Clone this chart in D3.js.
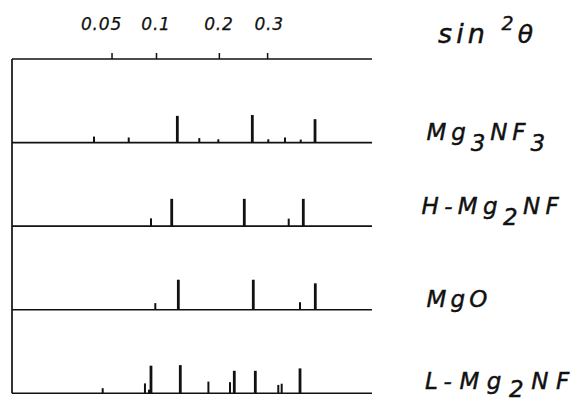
<!DOCTYPE html>
<html>
<head>
<meta charset="utf-8">
<script src="https://cdn.jsdelivr.net/npm/d3@7"></script>
<style>
  body { margin: 0; background: #fff; }
  svg { display: block; }
  text { font-family: "DejaVu Sans", sans-serif; font-style: italic; fill: #111; stroke: #111; stroke-width: 0.45; }
</style>
</head>
<body>
<script>
// ---- data ----
const tickValues = [0.05, 0.1, 0.2, 0.3];
const tickLabels = ["0.05", "0.1", "0.2", "0.3"];
const phases = ["Mg3NF3", "H-Mg2NF", "MgO", "L-Mg2NF"];

// line positions (sin²θ) and relative intensities (0-100)
const mg3nf3Pos = [0.0350, 0.0673, 0.1301, 0.1652, 0.1990, 0.2672, 0.3027, 0.3422, 0.3816, 0.4193];
const mg3nf3Int = [20, 17, 89, 15, 11, 92, 11, 17, 10, 78];

const hMg2nfPos = [0.0935, 0.1218, 0.2502, 0.3513, 0.3883];
const hMg2nfInt = [26, 91, 91, 25, 91];

const mgoPos = [0.0991, 0.1316, 0.2693, 0.3798, 0.4201];
const mgoInt = [22, 100, 100, 25, 88];

const lMg2nfPos = [0.0421, 0.0860, 0.0910, 0.0935, 0.1346, 0.1810, 0.2213, 0.2298, 0.2737, 0.3261, 0.3342, 0.3798];
const lMg2nfInt = [17, 33, 12, 92, 94, 39, 37, 75, 75, 28, 32, 83];

const seriesPos = [mg3nf3Pos, hMg2nfPos, mgoPos, lMg2nfPos];
const seriesInt = [mg3nf3Int, hMg2nfInt, mgoInt, lMg2nfInt];

// ---- layout ----
const W = 576, H = 401;
const svg = d3.select("body").append("svg").attr("width", W).attr("height", H);

const x = d3.scaleSqrt().domain([0, 0.6]).range([4.2, 4.2 + 480 * Math.sqrt(0.6)]);
const xL = 12, xR = 372;
const row = d3.scalePoint().domain(["axis", ...phases]).range([59, 393.3]);
const h = d3.scaleLinear().domain([0, 100]).range([0, 30]);

const ink = "#111";

// left vertical line
svg.append("line").attr("x1", xL).attr("x2", xL)
  .attr("y1", row("axis")).attr("y2", row(phases[3]))
  .attr("stroke", ink).attr("stroke-width", 1.7);

// top axis with upward ticks
const axisG = svg.append("g").attr("transform", `translate(0,${row("axis")})`);
const axis = d3.axisTop(x).tickValues(tickValues).tickSize(6).tickSizeOuter(0).tickFormat(() => "");
axisG.call(axis);
axisG.select(".domain").remove();
axisG.selectAll(".tick line").attr("stroke", ink).attr("stroke-width", 1.5);
axisG.append("line").attr("x1", xL).attr("x2", xR).attr("stroke", ink).attr("stroke-width", 1.6);

// tick labels
const labelShift = [-10, 0, 0, 2];
svg.append("g").selectAll("text").data(tickValues).join("text")
  .attr("x", (d, i) => x(d) + labelShift[i])
  .attr("y", 30)
  .attr("text-anchor", "middle")
  .attr("font-size", 17)
  .attr("letter-spacing", 0.8)
  .style("stroke-width", 0.25)
  .text((d, i) => tickLabels[i]);

// baselines and peaks
phases.forEach((p, k) => {
  const y0 = row(p);
  svg.append("line").attr("x1", xL).attr("x2", xR).attr("y1", y0).attr("y2", y0)
    .attr("stroke", ink).attr("stroke-width", 1.6);
  const data = seriesPos[k].map((v, i) => ({ v, I: seriesInt[k][i] }));
  svg.append("g").selectAll("line").data(data).join("line")
    .attr("x1", d => x(d.v)).attr("x2", d => x(d.v))
    .attr("y1", y0).attr("y2", d => y0 - h(d.I))
    .attr("stroke", ink)
    .attr("stroke-width", d => d.I > 50 ? 2.8 : 2);
});

// right-hand labels
function richLabel(parts, xStart, yBase, target, size) {
  const t = svg.append("text").attr("x", xStart).attr("y", yBase).attr("font-size", size);
  let shift = 0;
  parts.forEach(pt => {
    const ts = t.append("tspan").text(pt.t);
    const want = pt.dy || 0;
    if (want !== shift) { ts.attr("dy", want - shift); shift = want; }
    if (pt.size) ts.attr("font-size", pt.size);
  });
  const n = parts.map(p => p.t).join("").length;
  const natural = t.node().getComputedTextLength();
  t.attr("letter-spacing", Math.max(0, (target - natural) / (n - 0.5)));
  return t;
}

richLabel([{ t: "sin " }, { t: "2", dy: -13, size: 19 }, { t: "θ", size: 25 }], 438, 43, 97, 27);
richLabel([{ t: "Mg" }, { t: "3", dy: 11 }, { t: "NF" }, { t: "3", dy: 11 }], 426.5, 140, 121, 23);
richLabel([{ t: "H-Mg" }, { t: "2", dy: 11 }, { t: "NF" }], 421.5, 213.5, 140, 23);
richLabel([{ t: "MgO" }], 426.5, 306.5, 63, 23);
richLabel([{ t: "L-Mg" }, { t: "2", dy: 8 }, { t: "NF" }], 425, 389, 148, 23);
</script>
</body>
</html>
